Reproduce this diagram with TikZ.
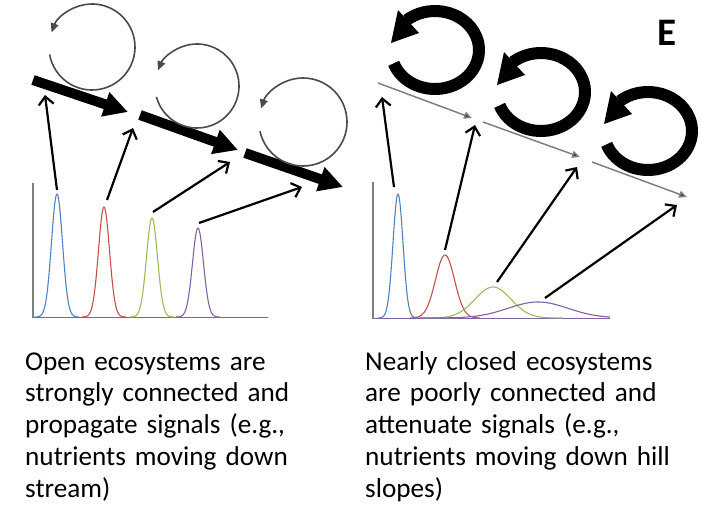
\documentclass[tikz,border=0pt]{standalone}
\usepackage{fontspec}
\setmainfont{Carlito}[WordSpace=0.7]
\usetikzlibrary{arrows.meta}
\definecolor{cblue}{HTML}{4F81BD}
\definecolor{cred}{HTML}{C0504D}
\definecolor{cgreen}{HTML}{9BBB59}
\definecolor{cpurple}{HTML}{8064A2}
\definecolor{axisgray}{HTML}{7F7F7F}
\definecolor{loopgray}{HTML}{4A4A4A}
\begin{document}
\begin{tikzpicture}[x=1pt,y=-1pt,
  curve/.style={line width=1.1pt},
  axisline/.style={draw=axisgray,line width=2pt},
  sig/.style={line width=2.2pt,-{Straight Barb[length=8pt,width=15pt]}},
  flow/.style={line width=10pt,-{Triangle[length=24pt,width=24pt]}},
  weak/.style={line width=1.5pt,draw=axisgray,-{Triangle[length=8pt,width=7pt,fill=black!80]}},
  loopthin/.style={line width=1.6pt,draw=loopgray,-{Triangle[length=9pt,width=8pt]}},
  ring/.style={line width=12pt},
  bigloop/.pic={
    \draw[ring] (160:44 and 39) arc[start angle=160,end angle=-130,x radius=44,y radius=39];
    \fill (-37,-40) -- (-16,-17) -- (-44,-7) -- cycle;
  },
  txt/.style={inner sep=0pt,anchor=base west,text width=330pt,align=left,
    font=\fontsize{27.2}{31.8}\selectfont}]
\useasboundingbox (0,0) rectangle (702,508);

% ---------- left panel ----------
\draw[axisline] (33,183) -- (33,318);
\draw[cpurple,line width=1pt] (33,317) -- (268,317);
\draw[cblue,curve] plot[domain=35:79,samples=80] (\x,{317-123*exp(-0.5*((\x-57)/5.5)^2)});
\draw[cred,curve] plot[domain=82:126,samples=80] (\x,{317-110*exp(-0.5*((\x-104)/5.5)^2)});
\draw[cgreen,curve] plot[domain=130:174,samples=80] (\x,{317-99*exp(-0.5*((\x-152)/5.5)^2)});
\draw[cpurple,curve] plot[domain=176:220,samples=80] (\x,{317-89*exp(-0.5*((\x-198)/5.5)^2)});

\coordinate (La1) at (33,80);  \coordinate (La2) at (128,112);
\coordinate (Lb1) at (140,115); \coordinate (Lb2) at (238,150);
\coordinate (Lc1) at (245,153); \coordinate (Lc2) at (343,187);
\draw[flow] (La1) -- (La2);
\draw[flow] (Lb1) -- (Lb2);
\draw[flow] (Lc1) -- (Lc2);

\coordinate (Lp1) at (57,190);  \coordinate (Lt1) at (45,95);
\coordinate (Lp2) at (107,200); \coordinate (Lt2) at (133,128);
\coordinate (Lp3) at (153,212); \coordinate (Lt3) at (230,162);
\coordinate (Lp4) at (199,223); \coordinate (Lt4) at (302,187);
\draw[sig] (Lp1) -- (Lt1);
\draw[sig] (Lp2) -- (Lt2);
\draw[sig] (Lp3) -- (Lt3);
\draw[sig] (Lp4) -- (Lt4);

\coordinate (Lc1c) at (92,47);
\coordinate (Lc2c) at (197,86);
\coordinate (Lc3c) at (303,122);
\draw[loopthin] (Lc1c) ++(170:43) arc[start angle=170,end angle=-160,radius=43];
\draw[loopthin] (Lc2c) ++(165:42) arc[start angle=165,end angle=-158,radius=42];
\draw[loopthin] (Lc3c) ++(168:44) arc[start angle=168,end angle=-162,radius=44];

% ---------- right panel ----------
\draw[axisline] (373,182) -- (373,319);
\draw[cpurple,line width=1pt] (373,318) -- (610,318);
\draw[cblue,curve] plot[domain=378:418,samples=80] (\x,{318-124*exp(-0.5*((\x-398)/5)^2)});
\draw[cred,curve] plot[domain=410:480,samples=80] (\x,{318-63*exp(-0.5*((\x-445)/9.5)^2)});
\draw[cgreen,curve] plot[domain=423:563,samples=100] (\x,{318-31*exp(-0.5*((\x-493)/18)^2)});
\draw[cpurple,curve] plot[domain=418:610,samples=100] (\x,{318-16*exp(-0.5*((\x-538)/30)^2)});

\coordinate (Ra1) at (378,83);  \coordinate (Ra2) at (472,118);
\coordinate (Rb1) at (483,122); \coordinate (Rb2) at (580,157);
\coordinate (Rc1) at (592,162); \coordinate (Rc2) at (687,197);
\draw[weak] (Ra1) -- (Ra2);
\draw[weak] (Rb1) -- (Rb2);
\draw[weak] (Rc1) -- (Rc2);

\coordinate (Rp1) at (394,187); \coordinate (Rt1) at (382,97);
\coordinate (Rp2) at (445,250); \coordinate (Rt2) at (475,125);
\coordinate (Rp3) at (497,282); \coordinate (Rt3) at (577,167);
\coordinate (Rp4) at (545,298); \coordinate (Rt4) at (677,205);
\draw[sig] (Rp1) -- (Rt1);
\draw[sig] (Rp2) -- (Rt2);
\draw[sig] (Rp3) -- (Rt3);
\draw[sig] (Rp4) -- (Rt4);

\pic (Rloop1) at (435,50) {bigloop};
\pic (Rloop2) at (541,92) {bigloop};
\pic (Rloop3) at (648,131) {bigloop};

\node[font=\fontsize{39}{39}\bfseries\selectfont,inner sep=0pt] (label) at (667,33) {E};

% ---------- captions ----------
\node[txt] (lefttext) at (25,370) {Open ecosystems are\\strongly connected and\\propagate signals (e.g.,\\nutrients moving down\\stream)};
\node[txt] (righttext) at (365,370) {Nearly closed ecosystems\\are poorly connected and\\attenuate signals (e.g.,\\nutrients moving down hill\\slopes)};
\end{tikzpicture}
\end{document}
